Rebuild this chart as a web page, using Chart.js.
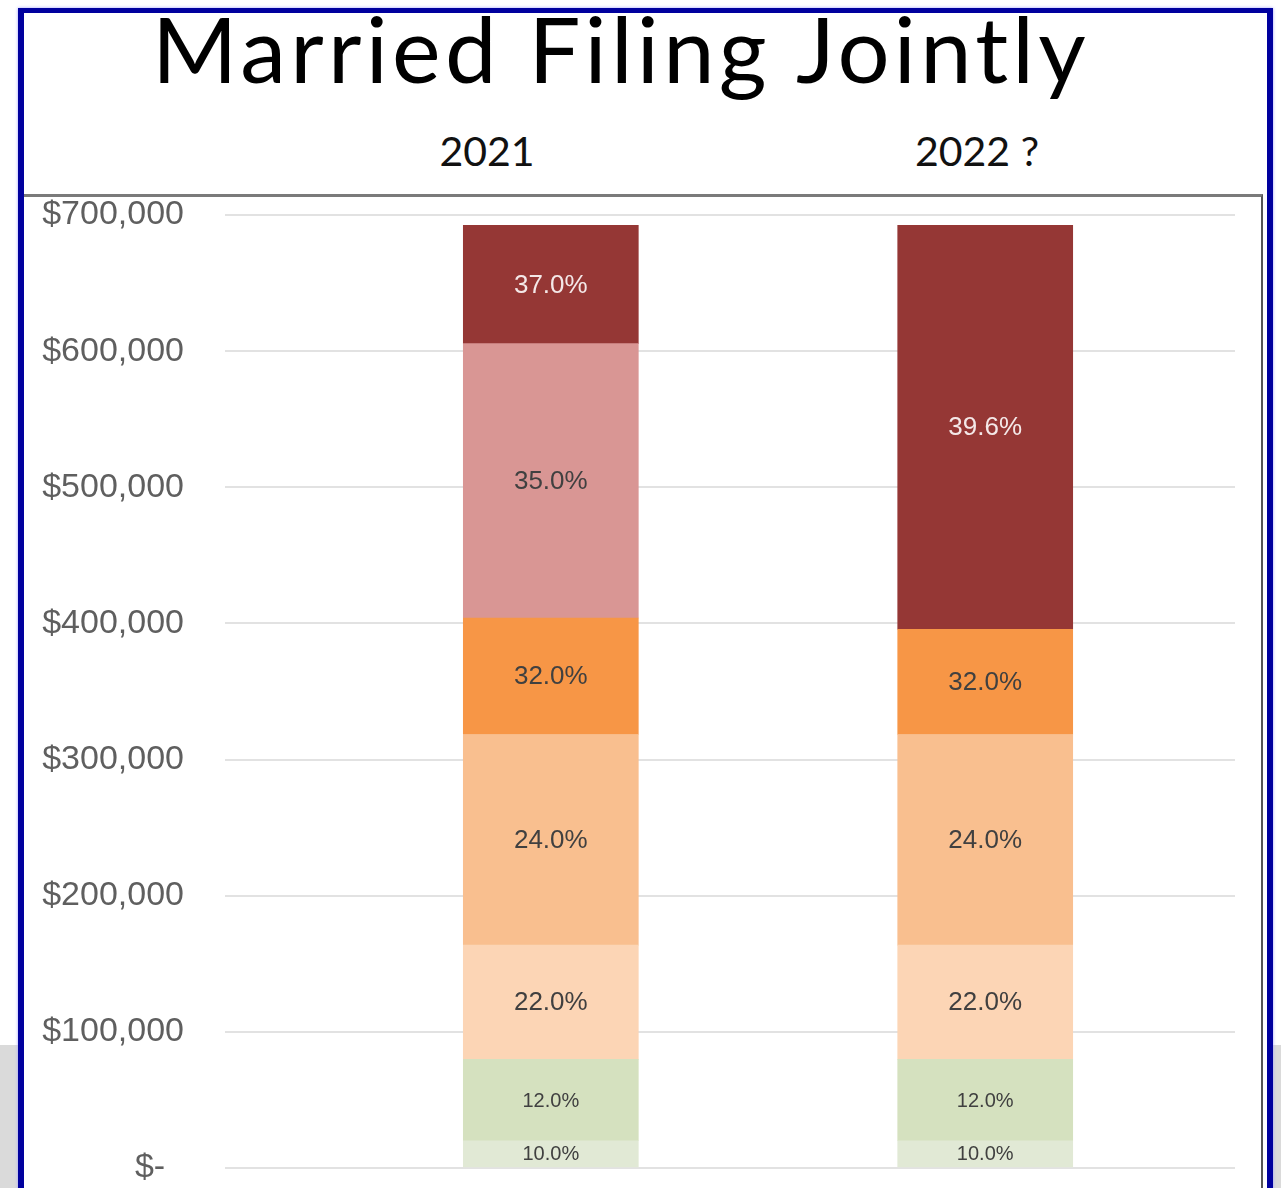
<!DOCTYPE html>
<html>
<head>
<meta charset="utf-8">
<title>Married Filing Jointly</title>
<script src="https://cdn.jsdelivr.net/npm/chart.js@4.4.1/dist/chart.umd.min.js"></script>
<style>
    html, body { margin: 0; padding: 0; }
    body {
        width: 1281px; height: 1188px; position: relative; overflow: hidden;
        background: #fff; font-family: Lato, 'Open Sans', sans-serif;
    }
    #band { position: absolute; left: 0; top: 1045px; width: 1281px; height: 143px; background: #dadada; }
    #frame {
        position: absolute; left: 18px; top: 8px; width: 1243px; height: 1200px;
        border: 6px solid #00009e; border-top-width: 5px; background: #fff;
        box-shadow: 0 0 3px #a0a0ff;
    }
    #title {
        position: absolute; left: 0; top: -2px; width: 1242px; text-align: center;
        font-size: 92px; line-height: 100px; color: #000; white-space: nowrap;
    }
    .year {
        position: absolute; top: 126px; width: 300px; text-align: center;
        font-size: 41px; line-height: 50px; color: #111;
    }
    #chartBox {
        position: absolute; left: 24px; top: 194px; width: 1237px; height: 1000px;
        border-top: 3px solid #7a7a7a; border-right: 2px solid #555;
    }
    #chartBox canvas { position: absolute; left: 0; top: 0; }
</style>
</head>
<body>
<div id="band"></div>
<div id="frame"></div>
<div id="title">Married Filing Jointly</div>
<div class="year" id="year0" style="left:337px"></div>
<div class="year" id="year1" style="left:827px"></div>
<div id="chartBox"><canvas id="mfjChart" width="1237" height="991"></canvas></div>

<script>
// Tax years shown as columns
const categories = ['2021', '2022 ?'];

// Bracket rate labels, bottom to top
const rates = ['10.0%', '12.0%', '22.0%', '24.0%', '32.0%', '35.0%', '37.0%', '39.6%'];

// Dollar width of each bracket per year
const bracket10 = [20000, 20000];
const bracket12 = [59800, 59800];
const bracket22 = [83900, 83900];
const bracket24 = [154700, 154700];
const bracket32 = [85600, 77300];
const bracket35 = [201500, null];
const bracket37 = [86900, null];
const bracket396 = [null, 296700];

const yTickLabels = ['$-  ', '$100,000', '$200,000', '$300,000', '$400,000', '$500,000', '$600,000', '$700,000'];

const bracketValues = [bracket10, bracket12, bracket22, bracket24, bracket32, bracket35, bracket37, bracket396];
const bracketColors = ['#e1e9d5', '#d5e1bf', '#fcd5b5', '#f9bf8f', '#f79646', '#d99694', '#953735', '#953735'];
const labelColors = ['#404040', '#404040', '#404040', '#404040', '#404040', '#404040', '#f4e8e8', '#f4e8e8'];

document.addEventListener('DOMContentLoaded', function() {
    fitTitle();
    categories.forEach((c, i) => { document.getElementById('year' + i).textContent = c; });
    initializeChart();
});

function fitTitle() {
    // stretch the title to the width it has in the original slide
    const el = document.getElementById('title');
    const span = document.createElement('span');
    span.textContent = el.textContent;
    el.textContent = '';
    el.appendChild(span);
    const w = span.getBoundingClientRect().width;
    const chars = span.textContent.length;
    el.style.letterSpacing = ((938 - w) / chars) + 'px';
}

// draws the rate in the middle of each segment
const segmentLabels = {
    id: 'segmentLabels',
    afterDatasetsDraw(chart) {
        const ctx = chart.ctx;
        chart.data.datasets.forEach((ds, i) => {
            const meta = chart.getDatasetMeta(i);
            meta.data.forEach((bar, j) => {
                if (ds.data[j].y == null) return;
                const props = bar.getProps(['x', 'y', 'base'], true);
                ctx.save();
                ctx.font = (i < 2 ? '20px' : '26px') + ' "Liberation Sans", Arial, sans-serif';
                ctx.fillStyle = labelColors[i];
                ctx.textAlign = 'center';
                ctx.textBaseline = 'middle';
                ctx.fillText(ds.label, props.x, (props.y + props.base) / 2 + 1);
                ctx.restore();
            });
        });
    }
};

function initializeChart() {
    const canvas = document.getElementById('mfjChart');

    new Chart(canvas.getContext('2d'), {
        type: 'bar',
        data: {
            datasets: bracketValues.map((vals, i) => ({
                label: rates[i],
                data: vals.map((v, j) => ({ x: j, y: v })),
                backgroundColor: bracketColors[i],
                borderWidth: 0,
                barThickness: 175
            }))
        },
        options: {
            responsive: false,
            animation: false,
            layout: {
                padding: { top: 18, right: 26, bottom: 20, left: 0 }
            },
            plugins: {
                legend: { display: false },
                tooltip: { enabled: false }
            },
            scales: {
                x: {
                    type: 'linear',
                    stacked: true,
                    display: false,
                    offset: false,
                    min: -0.75,
                    max: 1.575
                },
                y: {
                    stacked: true,
                    min: 0,
                    max: 700000,
                    border: { display: false },
                    grid: { color: '#e2e2e2', lineWidth: 2, drawTicks: false },
                    ticks: {
                        stepSize: 100000,
                        padding: 41,
                        color: '#5f5f5f',
                        font: { family: '"Liberation Sans", Arial, sans-serif', size: 34 },
                        callback: (v, i) => yTickLabels[i]
                    },
                    afterFit: scale => {
                        scale.width = 201;
                        scale.paddingTop = 0;
                        scale.paddingBottom = 0;
                    }
                }
            }
        },
        plugins: [segmentLabels]
    });
}
</script>
</body>
</html>
